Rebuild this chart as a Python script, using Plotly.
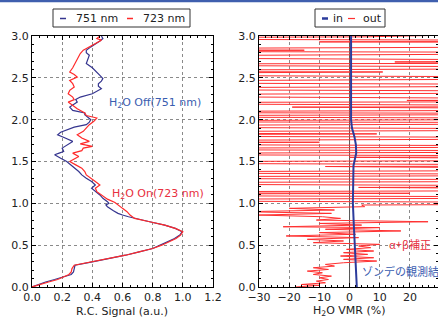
import plotly.graph_objects as go

# ---------------- data ----------------
# Left panel: range-corrected signal vs altitude (km)
alt_723 = [0.00, 0.03, 0.06, 0.09, 0.12, 0.15, 0.18, 0.22, 0.26, 0.30, 0.34, 0.38, 0.42, 0.46,
           0.50, 0.54, 0.58, 0.62, 0.66, 0.70, 0.74, 0.78, 0.82, 0.86, 0.90, 0.94, 0.97, 1.01,
           1.05, 1.10, 1.14, 1.18, 1.22, 1.26, 1.30, 1.34, 1.38, 1.42, 1.46, 1.50, 1.53, 1.56,
           1.60, 1.63, 1.66, 1.68, 1.71, 1.74, 1.78, 1.82, 1.86, 1.90, 1.94, 1.98, 2.02, 2.05,
           2.08, 2.13, 2.17, 2.21, 2.24, 2.27, 2.31, 2.35, 2.39, 2.43, 2.47, 2.51, 2.54, 2.57,
           2.62, 2.67, 2.71, 2.75, 2.79, 2.83, 2.86, 2.89, 2.92, 2.95, 2.97, 3.00]
sig_723 = [0.00, 0.05, 0.11, 0.17, 0.21, 0.245, 0.26, 0.265, 0.28, 0.40, 0.52, 0.62, 0.71, 0.80,
           0.86, 0.91, 0.955, 0.985, 1.00, 0.95, 0.88, 0.78, 0.68, 0.65, 0.63, 0.60, 0.58, 0.55,
           0.50, 0.46, 0.43, 0.42, 0.45, 0.42, 0.39, 0.36, 0.35, 0.33, 0.29, 0.25, 0.28, 0.31,
           0.27, 0.33, 0.34, 0.40, 0.32, 0.38, 0.33, 0.30, 0.34, 0.36, 0.38, 0.41, 0.43, 0.36,
           0.35, 0.30, 0.27, 0.24, 0.28, 0.27, 0.24, 0.25, 0.28, 0.27, 0.25, 0.30, 0.28, 0.25,
           0.27, 0.285, 0.30, 0.31, 0.32, 0.34, 0.37, 0.395, 0.42, 0.46, 0.43, 0.45]

alt_751 = [0.00, 0.03, 0.06, 0.09, 0.12, 0.15, 0.18, 0.22, 0.26, 0.30, 0.34, 0.38, 0.42, 0.46,
           0.50, 0.54, 0.58, 0.62, 0.66, 0.70, 0.74, 0.78, 0.82, 0.84, 0.86, 0.88, 0.91, 0.94,
           0.96, 0.98, 1.00, 1.02, 1.06, 1.10, 1.14, 1.18, 1.22, 1.26, 1.30, 1.34, 1.38, 1.42,
           1.46, 1.50, 1.54, 1.58, 1.60, 1.62, 1.66, 1.70, 1.74, 1.78, 1.82, 1.85, 1.88, 1.91,
           1.94, 1.97, 2.00, 2.03, 2.06, 2.08, 2.11, 2.15, 2.18, 2.21, 2.24, 2.27, 2.31, 2.34,
           2.37, 2.40, 2.43, 2.46, 2.49, 2.53, 2.57, 2.62, 2.67, 2.72, 2.77, 2.80, 2.83, 2.87,
           2.91, 2.94, 2.97, 3.00]
sig_751 = [0.00, 0.04, 0.09, 0.15, 0.21, 0.26, 0.275, 0.28, 0.285, 0.40, 0.52, 0.62, 0.71, 0.80,
           0.85, 0.90, 0.945, 0.98, 0.995, 0.95, 0.88, 0.78, 0.67, 0.64, 0.60, 0.57, 0.54, 0.51,
           0.50, 0.49, 0.51, 0.50, 0.47, 0.45, 0.42, 0.395, 0.42, 0.395, 0.36, 0.33, 0.31, 0.285,
           0.26, 0.23, 0.19, 0.15, 0.18, 0.21, 0.20, 0.24, 0.27, 0.22, 0.17, 0.19, 0.23, 0.28,
           0.36, 0.38, 0.39, 0.37, 0.35, 0.35, 0.27, 0.25, 0.28, 0.30, 0.29, 0.32, 0.40, 0.43,
           0.46, 0.44, 0.44, 0.46, 0.47, 0.45, 0.43, 0.40, 0.36, 0.37, 0.38, 0.36, 0.36, 0.39,
           0.43, 0.45, 0.47, 0.46]

# Right panel: H2O VMR (%) vs altitude (km)
alt_in = [0.00, 0.25, 0.50, 0.75, 1.00, 1.20, 1.40, 1.45, 1.50, 1.55, 1.60, 1.70, 1.80, 1.90, 2.00, 2.50, 3.00]
vmr_in = [2.4, 2.0, 1.7, 1.4, 1.1, 1.2, 1.2, 1.3, 1.6, 2.0, 2.2, 2.1, 1.6, 0.8, 0.5, 0.5, 0.5]

alt_out = [0.00, 0.02, 0.03, 0.05, 0.07, 0.09, 0.11, 0.13, 0.15, 0.17, 0.19, 0.21, 0.23, 0.25,
           0.27, 0.29, 0.31, 0.33, 0.35, 0.37, 0.39, 0.41, 0.43, 0.45, 0.47, 0.49, 0.51, 0.53,
           0.55, 0.57, 0.59, 0.61, 0.63, 0.65, 0.67, 0.69, 0.71, 0.72, 0.74, 0.76, 0.78, 0.80,
           0.82, 0.84, 0.86, 0.88, 0.90, 0.92, 0.94, 0.96, 0.98,
           1.00, 1.04, 1.07, 1.10, 1.12, 1.13, 1.16, 1.19, 1.20, 1.24, 1.27, 1.31, 1.34, 1.37,
           1.40, 1.44, 1.45, 1.49, 1.52, 1.55, 1.56, 1.59, 1.62, 1.65, 1.68, 1.71, 1.73, 1.74,
           1.78, 1.81, 1.83, 1.85, 1.88, 1.92, 1.96, 1.98, 2.01, 2.04, 2.07, 2.09, 2.12, 2.15,
           2.16, 2.20, 2.22, 2.23, 2.24, 2.29, 2.33, 2.37, 2.41, 2.45, 2.50, 2.54, 2.57, 2.58,
           2.62, 2.66, 2.68, 2.69, 2.70, 2.75, 2.80, 2.82, 2.83, 2.84, 2.88, 2.92, 2.93, 2.94,
           2.97, 2.99, 3.10]
vmr_out = [-18, -10, -16, -8, -11, -7, -10, -6, -12, -9, -14, -7, -12, -5,
           -8, -2, 9, -2, 8, -3, 6, -2, 8, -1, 7, 3, 10, -12,
           -2, -14, 3, -21, 2, -10, 17, -8, 10, -22, 4, -10, 26, -11,
           -3, -9, -30, -6, -35, -5, -20, 5, 4,
           150, -150, 150, -150, 20, -150, 150, 3, 150, -150, 150, -150, 150, -150,
           150, -8, 150, -150, 150, 0, 150, -150, 150, -150, 150, -150, -10, -150,
           150, -150, 9, -150, 150, -150, 150, -150, 150, -150, 150, -150, 150, -19,
           150, -150, 150, 19, 150, -150, 150, -150, 150, -150, 150, -150, 11, -150,
           150, -150, 150, 15, 150, -150, 150, -150, -15, -150, 150, 150, -10, 150,
           -150, 5.5, 150]

zero_alt = [0.0, 3.0]
zero_vmr = [0.0, 0.0]

x1_ticks = [0.0, 0.2, 0.4, 0.6, 0.8, 1.0, 1.2]
x2_ticks = [-30, -20, -10, 0, 10, 20, 30]
y_ticks = [0.0, 0.5, 1.0, 1.5, 2.0, 2.5, 3.0]

# ---------------- figure ----------------
W, H = 438, 325
ML, MR, MT, MB = 32, 0, 36, 38
PW, PH = W - ML - MR, H - MT - MB


def px(x):
    return (x - ML) / PW


def py(y):
    return (H - MB - y) / PH


BLUE = "#35358f"
RED = "#ff2a2a"
FONT = "DejaVu Sans"
CJK = "Noto Sans CJK JP"

fig = go.Figure()
fig.add_trace(go.Scatter(x=sig_751, y=alt_751, mode="lines", line=dict(color=BLUE, width=1.2),
                         xaxis="x", yaxis="y", showlegend=False))
fig.add_trace(go.Scatter(x=sig_723, y=alt_723, mode="lines", line=dict(color=RED, width=1.2),
                         xaxis="x", yaxis="y", showlegend=False))
fig.add_trace(go.Scatter(x=zero_vmr, y=zero_alt, mode="lines", line=dict(color="#555555", width=1),
                         xaxis="x2", yaxis="y2", showlegend=False))
fig.add_trace(go.Scatter(x=vmr_out, y=alt_out, mode="lines", line=dict(color="#ff3030", width=1),
                         xaxis="x2", yaxis="y2", showlegend=False))
fig.add_trace(go.Scatter(x=vmr_in, y=alt_in, mode="lines", line=dict(color="#2b3b9c", width=2),
                         xaxis="x2", yaxis="y2", showlegend=False))

axis_common = dict(showline=True, linecolor="black", linewidth=1, mirror="allticks",
                   ticks="inside", ticklen=4, tickcolor="black", showgrid=True,
                   gridcolor="#8a8a8a", griddash="dot", gridwidth=1, zeroline=False,
                   automargin=False,
                   tickfont=dict(family=FONT, size=11, color="#222"))

fig.update_layout(
    width=W, height=H, margin=dict(l=ML, r=MR, t=MT, b=MB, autoexpand=False),
    paper_bgcolor="white", plot_bgcolor="white",
    font=dict(family=FONT, size=11, color="#222"),
    xaxis=dict(domain=[0, px(213)], range=[0, 1.2], tickvals=x1_ticks, tickformat=".1f",
               minor=dict(ticks="inside", ticklen=2, dtick=0.05, tickcolor="black", showgrid=False),
               anchor="y", **axis_common),
    yaxis=dict(domain=[0, 1], range=[0, 3], tickvals=y_ticks, tickformat=".1f",
               minor=dict(ticks="inside", ticklen=2, dtick=0.1, tickcolor="black", showgrid=False),
               anchor="x", **axis_common),
    xaxis2=dict(domain=[px(259), 1], range=[-30, 29.3], tickvals=x2_ticks,
                minor=dict(ticks="inside", ticklen=2, dtick=2, tickcolor="black", showgrid=False),
                anchor="y2", **axis_common),
    yaxis2=dict(domain=[0, 1], range=[0, 3], tickvals=y_ticks, tickformat=".1f",
                minor=dict(ticks="inside", ticklen=2, dtick=0.1, tickcolor="black", showgrid=False),
                anchor="x2", **axis_common),
)

shapes = []
annos = []


def label(text, x, y, color="#222", family=FONT, xanchor="center", size=11):
    annos.append(dict(text=text, x=px(x), y=py(y), xref="paper", yref="paper", showarrow=False,
                      xanchor=xanchor, yanchor="middle",
                      font=dict(family=family, size=size, color=color)))


# top blue band
shapes.append(dict(type="rect", xref="paper", yref="paper", x0=px(0), x1=px(W), y0=py(0), y1=py(2.2),
                   fillcolor="#3f5fae", line=dict(width=0), layer="above"))
# left legend
shapes.append(dict(type="rect", xref="paper", yref="paper", x0=px(53), x1=px(190), y0=py(27), y1=py(9),
                   fillcolor="white", line=dict(color="#333", width=1)))
shapes.append(dict(type="line", xref="paper", yref="paper", x0=px(60), x1=px(66), y0=py(18.5), y1=py(18.5),
                   line=dict(color=BLUE, width=1.5)))
shapes.append(dict(type="line", xref="paper", yref="paper", x0=px(127), x1=px(133), y0=py(18.5), y1=py(18.5),
                   line=dict(color=RED, width=1.5)))
label("751 nm", 97, 18)
label("723 nm", 164, 18)
# right legend
shapes.append(dict(type="rect", xref="paper", yref="paper", x0=px(315), x1=px(385), y0=py(27), y1=py(9),
                   fillcolor="white", line=dict(color="#333", width=1)))
shapes.append(dict(type="line", xref="paper", yref="paper", x0=px(322), x1=px(328), y0=py(18.5), y1=py(18.5),
                   line=dict(color="#2b3b9c", width=2.5)))
shapes.append(dict(type="line", xref="paper", yref="paper", x0=px(348), x1=px(355), y0=py(18.5), y1=py(18.5),
                   line=dict(color="#ff3030", width=1.2)))
label("in", 338, 18)
label("out", 372, 18)
# axis titles
label("R.C. Signal (a.u.)", 122, 311)
label("H<sub>2</sub>O VMR (%)", 349, 311)
# in-plot labels
label("H<sub>2</sub>O Off(751 nm)", 107, 103, color="#3a5db0", xanchor="left")
label("H<sub>2</sub>O On(723 nm)", 110, 194, color="#e83040", xanchor="left")
label("α+β補正", 387, 244, color="#e83040", family=CJK, xanchor="left")
label("ゾンデの観測結果", 360, 271, color="#3a5db0", family=CJK, xanchor="left")

fig.update_layout(shapes=shapes, annotations=annos)
fig.write_html("out.html",
               config={"displayModeBar": False},
               post_script="document.body.style.margin='0';document.body.style.padding='0';"
                           "document.body.style.overflow='hidden';")
